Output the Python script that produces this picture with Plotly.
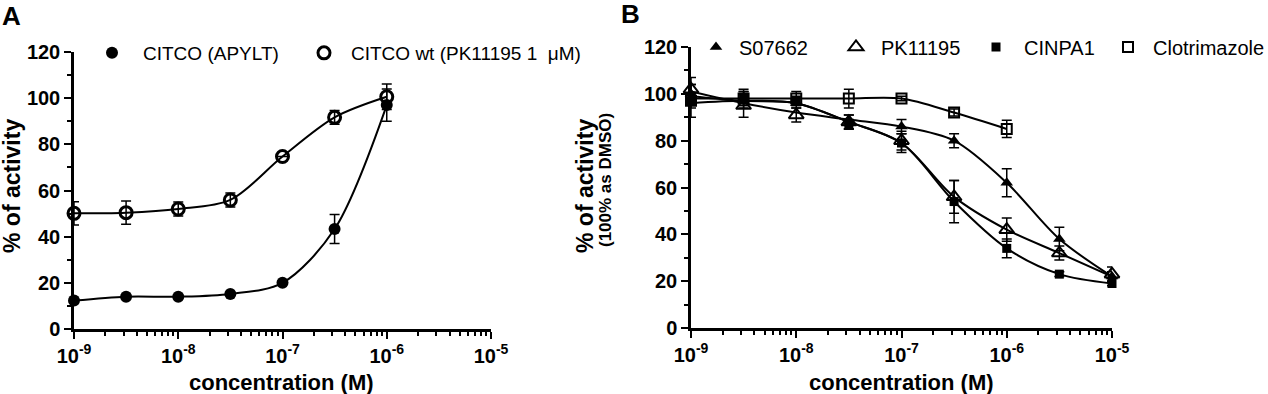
import plotly.graph_objects as go

W, H = 1268, 394

# ---------------- data ----------------
conc_A = [1e-9, 3.16e-9, 1e-8, 3.16e-8, 1e-7, 3.16e-7, 1e-6]
citco_apylt = [12.3, 14.0, 14.0, 15.2, 20.0, 43.3, 97.0]
citco_apylt_err = [0, 0, 0, 0, 0, 6.3, 7.0]
citco_wt = [50.1, 50.4, 52.0, 55.9, 74.7, 91.7, 100.6]
citco_wt_err = [5.0, 5.0, 3.0, 3.0, 0, 3.0, 5.5]

conc_B = [1e-9, 3.16e-9, 1e-8, 3.16e-8, 1e-7, 3.16e-7, 1e-6, 3.16e-6, 1e-5]
s07662 = [100, 98, 96, 88, 86, 80, 62, 38, 22]
s07662_err = [4, 3, 2, 3, 3, 3, 6, 5, 2]
s07662_fit = [101, 96, 92, 89, 86, 80, 62, 38, 22]
pk11195 = [102, 95, 91, 88, 80, 56, 42, 32, 23]
pk11195_err = [5, 5, 3, 3, 4, 7, 5, 3, 3]
pk11195_fit = [99, 97, 96, 88, 79, 56, 42, 32, 22]
cinpa1 = [97, 98, 97, 87, 79, 54, 34, 23, 19]
cinpa1_err = [7, 4, 2, 2, 4, 9, 4, 1, 1]
cinpa1_fit = [96, 97, 96, 88, 79, 54, 34, 23, 19]
conc_clot = [1e-9, 3.16e-9, 1e-8, 3.16e-8, 1e-7, 3.16e-7, 1e-6]
clotrimazole = [97, 98, 98, 98, 98, 92, 85]
clotrimazole_err = [3, 3, 3, 4, 1, 1.5, 3.7]
clotrimazole_fit = [98, 98, 98, 98, 98, 92, 85]

x_tick_vals = [1e-9, 1e-8, 1e-7, 1e-6, 1e-5]
x_tick_labels = ["10<sup>-9</sup>", "10<sup>-8</sup>", "10<sup>-7</sup>",
                 "10<sup>-6</sup>", "10<sup>-5</sup>"]
y_tick_vals = [0, 20, 40, 60, 80, 100, 120]

# ---------------- style ----------------
FONT = "Liberation Sans"
BLACK = "black"

def px_x(p):
    return p / W

def px_y(p):
    return 1 - p / H

fig = go.Figure()

def add_series(xs, ys, errs, fit, symbol, size, lw, name, xa, ya, legend):
    fig.add_trace(go.Scatter(
        x=xs, y=fit, mode="lines",
        line=dict(color=BLACK, width=2, shape="spline", smoothing=0.9),
        xaxis=xa, yaxis=ya, showlegend=False, hoverinfo="skip", cliponaxis=False))
    fig.add_trace(go.Scatter(
        x=xs, y=ys, mode="markers", name=name,
        marker=dict(symbol=symbol, size=size, color=BLACK,
                    line=dict(color=BLACK, width=lw)),
        error_y=dict(type="data", array=errs, color=BLACK, thickness=1.5, width=5),
        xaxis=xa, yaxis=ya, legend=legend, cliponaxis=False))

# Panel A
add_series(conc_A, citco_apylt, citco_apylt_err, citco_apylt, "circle", 12, 0,
           "CITCO (APYLT)", "x", "y", "legend")
add_series(conc_A, citco_wt, citco_wt_err, citco_wt, "circle-open", 12, 3,
           "CITCO wt (PK11195 1\u00a0 \u03bcM)", "x", "y", "legend2")

# Panel B
add_series(conc_B, s07662, s07662_err, s07662_fit, "triangle-up", 11, 0,
           "S07662", "x2", "y2", "legend3")
add_series(conc_B, pk11195, pk11195_err, pk11195_fit, "triangle-up-open", 13, 2,
           "PK11195", "x2", "y2", "legend4")
add_series(conc_B, cinpa1, cinpa1_err, cinpa1_fit, "square", 9, 0,
           "CINPA1", "x2", "y2", "legend5")
add_series(conc_clot, clotrimazole, clotrimazole_err, clotrimazole_fit, "square-open", 10, 2,
           "Clotrimazole", "x2", "y2", "legend6")

minor_x = [m * 10.0 ** e for e in range(-9, -5) for m in range(2, 10)]

def xaxis_cfg(domain, anchor):
    return dict(type="log", range=[-9, -5], domain=domain, anchor=anchor,
                showline=True, linecolor=BLACK, linewidth=2.5,
                ticks="outside", ticklen=7, tickwidth=2, tickcolor=BLACK,
                tickmode="array", tickvals=x_tick_vals, ticktext=x_tick_labels,
                tickfont=dict(family=FONT, size=20, color=BLACK, weight="bold"),
                showgrid=False, zeroline=False, automargin=False,
                minor=dict(tickmode="array", tickvals=minor_x, ticks="outside",
                           ticklen=4, tickwidth=1.5, tickcolor=BLACK, showgrid=False))

def yaxis_cfg(domain, anchor):
    return dict(range=[0, 120], domain=domain, anchor=anchor,
                showline=True, linecolor=BLACK, linewidth=2.5,
                ticks="outside", ticklen=7, tickwidth=2, tickcolor=BLACK,
                tickmode="array", tickvals=y_tick_vals,
                tickfont=dict(family=FONT, size=20, color=BLACK, weight="bold"),
                showgrid=False, zeroline=False, automargin=False,
                minor=dict(dtick=10, ticks="outside", ticklen=4, tickwidth=1.5,
                           tickcolor=BLACK, showgrid=False))

layout = dict(
    width=W, height=H, margin=dict(l=0, r=0, t=0, b=0, autoexpand=False),
    paper_bgcolor="white", plot_bgcolor="white",
    xaxis=xaxis_cfg([px_x(74), px_x(491)], "y"),
    yaxis=yaxis_cfg([px_y(329), px_y(52)], "x"),
    xaxis2=xaxis_cfg([px_x(691), px_x(1112)], "y2"),
    yaxis2=yaxis_cfg([px_y(328), px_y(47)], "x2"),
)

def legend_cfg(mx, my, iw, size):
    return dict(x=px_x(mx - (5 + iw / 2)), y=px_y(my), xanchor="left", yanchor="middle",
                orientation="h", bgcolor="rgba(0,0,0,0)", borderwidth=0,
                font=dict(family=FONT, size=size, color=BLACK),
                itemsizing="trace", itemwidth=iw)

layout["legend"] = legend_cfg(112, 53, 52, 19)
layout["legend2"] = legend_cfg(324, 53, 44, 19)
layout["legend3"] = legend_cfg(716, 47, 36, 20)
layout["legend4"] = legend_cfg(856, 47, 40, 20)
layout["legend5"] = legend_cfg(996, 47, 46, 20)
layout["legend6"] = legend_cfg(1128, 47, 40, 20)

fig.update_layout(**layout)

def ann(text, x, y, size, angle=0, bold=True):
    fig.add_annotation(text=text, x=px_x(x), y=px_y(y), xref="paper", yref="paper",
                       showarrow=False, textangle=angle, xanchor="center", yanchor="middle",
                       font=dict(family=FONT, size=size, color=BLACK,
                                 weight="bold" if bold else "normal"))

ann("A", 11, 16, 26)
ann("B", 630, 14, 26)
ann("% of activity", 12, 186, 23, -90)
ann("concentration (M)", 281, 382, 22)
ann("% of activity", 585, 186, 23, -90)
ann("(100% as DMSO)", 605, 180, 17, -90)
ann("concentration (M)", 901, 382, 22)

# remove the default page margin so the figure sits at the window's top-left corner
fig.write_html("out.html", config={"displayModeBar": False},
               post_script="document.body.style.margin='0px';")
